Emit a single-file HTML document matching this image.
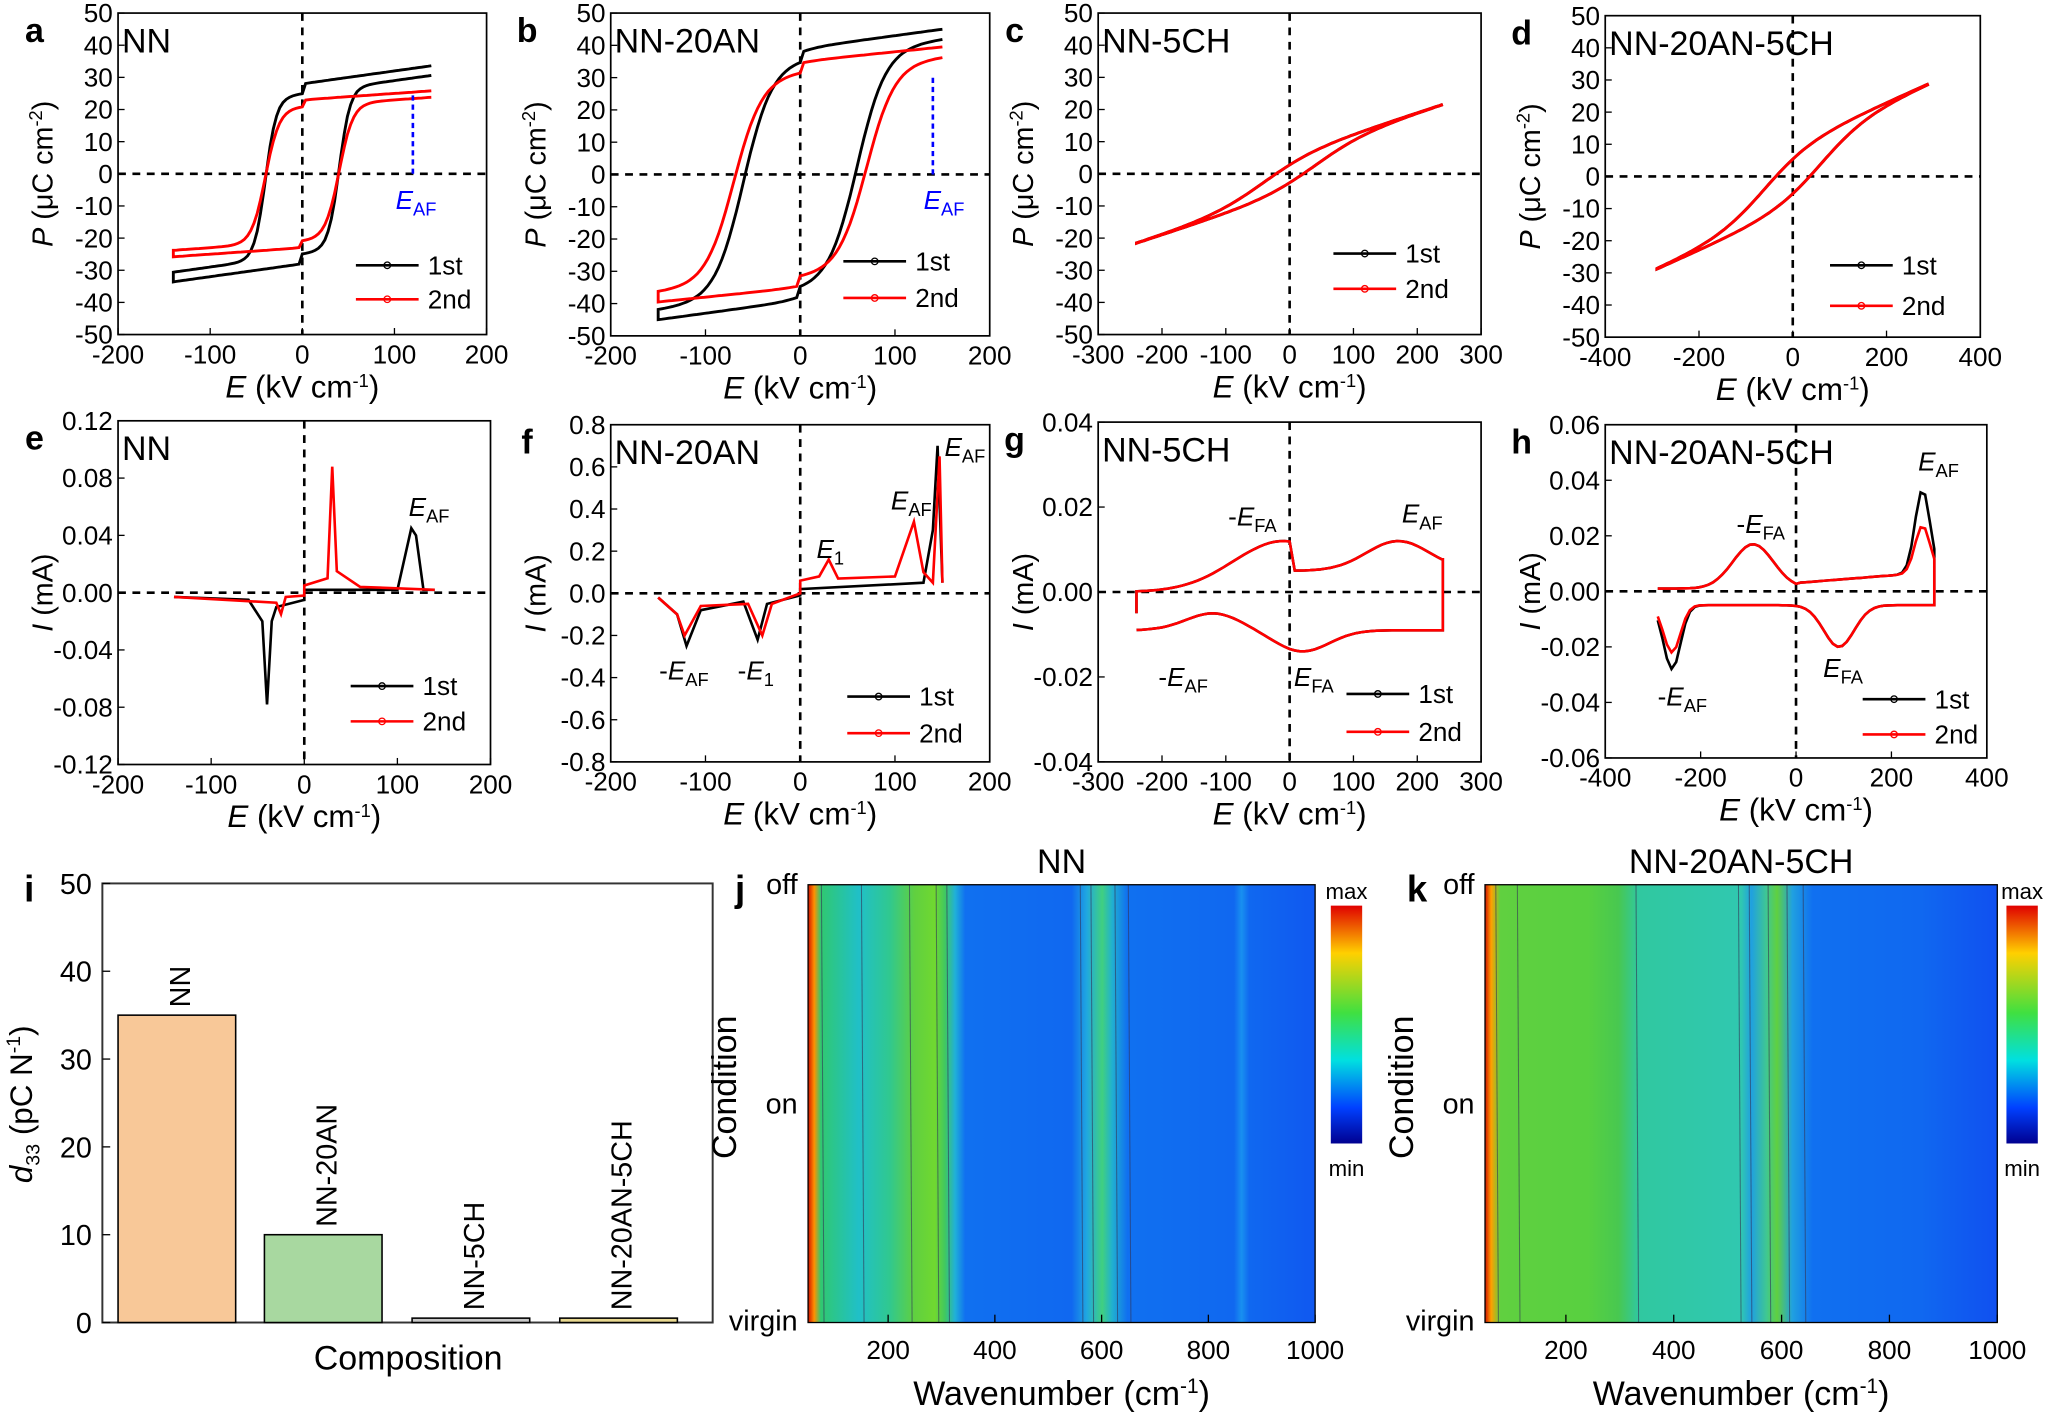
<!DOCTYPE html>
<html><head><meta charset="utf-8"><style>
html,body{margin:0;padding:0;background:#fff}
svg{display:block}
text{font-family:"Liberation Sans",sans-serif}
</style></head><body>
<svg id="s" width="2050" height="1414" viewBox="0 0 1568 1082" xmlns="http://www.w3.org/2000/svg">
<defs>
<linearGradient id="gj" x1="0" x2="1" y1="0" y2="0">
<stop offset="0" stop-color="#d01000"/><stop offset="0.012" stop-color="#ff9000"/><stop offset="0.025" stop-color="#30c870"/>
<stop offset="0.1" stop-color="#20c0c8"/><stop offset="0.16" stop-color="#30c890"/><stop offset="0.21" stop-color="#60d040"/>
<stop offset="0.25" stop-color="#70d830"/><stop offset="0.27" stop-color="#40c860"/><stop offset="0.29" stop-color="#20b0d8"/>
<stop offset="0.31" stop-color="#1070f0"/><stop offset="0.52" stop-color="#1068f0"/><stop offset="0.55" stop-color="#20a8e0"/>
<stop offset="0.58" stop-color="#40d080"/><stop offset="0.6" stop-color="#20b0d0"/><stop offset="0.63" stop-color="#1070f0"/>
<stop offset="0.84" stop-color="#1068f0"/><stop offset="0.855" stop-color="#1890f0"/><stop offset="0.87" stop-color="#1068f0"/><stop offset="1" stop-color="#1058f0"/>
</linearGradient>
<linearGradient id="gk" x1="0" x2="1" y1="0" y2="0">
<stop offset="0" stop-color="#d01000"/><stop offset="0.012" stop-color="#ffa000"/><stop offset="0.03" stop-color="#60d040"/>
<stop offset="0.2" stop-color="#58d040"/><stop offset="0.26" stop-color="#48c850"/><stop offset="0.3" stop-color="#30c8a0"/>
<stop offset="0.5" stop-color="#30c8b0"/><stop offset="0.52" stop-color="#20a0e0"/><stop offset="0.55" stop-color="#40c890"/>
<stop offset="0.57" stop-color="#60d040"/><stop offset="0.6" stop-color="#20a0e0"/><stop offset="0.64" stop-color="#1070f0"/>
<stop offset="0.85" stop-color="#1068f0"/><stop offset="1" stop-color="#1050f0"/>
</linearGradient>
<linearGradient id="cb" x1="0" x2="0" y1="0" y2="1">
<stop offset="0" stop-color="#e00000"/><stop offset="0.2" stop-color="#ffd000"/><stop offset="0.45" stop-color="#40e040"/>
<stop offset="0.65" stop-color="#00e0e0"/><stop offset="0.85" stop-color="#0040ff"/><stop offset="1" stop-color="#000090"/>
</linearGradient>
</defs>
<g id="g"></g>
</svg>
<script>
const G=document.getElementById('g');let h='';
function ga(x){return Math.exp(-x*x);}
function T(x,y,t,o={}){h+=`<text x="${x}" y="${y}" font-size="${o.s||20}" text-anchor="${o.a||'middle'}" ${o.b?'font-weight="bold"':''} ${o.r?`transform="rotate(${o.r} ${x} ${y})"`:''} fill="${o.c||'#000'}">${t}</text>`}
function panel(x0,y0,x1,y1,xr,yr,xt,yt,fmtY,letter,name,ylab,xlab){
 const X=v=>x0+(v-xr[0])/(xr[1]-xr[0])*(x1-x0),Y=v=>y1-(v-yr[0])/(yr[1]-yr[0])*(y1-y0);
 h+=`<rect x="${x0}" y="${y0}" width="${x1-x0}" height="${y1-y0}" fill="none" stroke="#000" stroke-width="1.3"/>`;
 xt.forEach(v=>{h+=`<line x1="${X(v)}" x2="${X(v)}" y1="${y1}" y2="${y1-5}" stroke="#000"/>`;T(X(v),y1+22,v)});
 yt.forEach(v=>{h+=`<line x1="${x0}" x2="${x0+5}" y1="${Y(v)}" y2="${Y(v)}" stroke="#000"/>`;T(x0-4,Y(v)+7,fmtY(v),{a:'end'})});
 h+=`<line x1="${x0}" x2="${x1}" y1="${Y(0)}" y2="${Y(0)}" stroke="#000" stroke-width="2" stroke-dasharray="6,5"/>`;
 h+=`<line x1="${X(0)}" x2="${X(0)}" y1="${y0}" y2="${y1}" stroke="#000" stroke-width="2" stroke-dasharray="6,5"/>`;
 T(x0-64,y0+22,letter,{s:26,b:1});T(x0+3,y0+30,name,{s:26,a:'start'});
 T(x0-50,(y0+y1)/2,ylab,{s:22,r:-90});T((x0+x1)/2,y1+48,xlab,{s:24});
 return [X,Y];
}
function path(pts,c,w){h+=`<path d="M${pts.map(p=>p[0].toFixed(1)+','+p[1].toFixed(1)).join('L')}" fill="none" stroke="${c}" stroke-width="${w||2.2}"/>`}
function loop(X,Y,Em,Ps,Ec,wd,k,c,jump){let p=[];
 for(let i=0;i<=80;i++){let E=Em-2*Em*i/80;p.push([X(E),Y(Ps*Math.tanh((E+Ec)/wd)+k*E+(E>0?jump:0))])}
 for(let i=0;i<=80;i++){let E=-Em+2*Em*i/80;p.push([X(E),Y(Ps*Math.tanh((E-Ec)/wd)+k*E-(E<0?jump:0))])}
 path(p,c)}
function leg(x,y,c,t){h+=`<line x1="${x}" x2="${x+48}" y1="${y}" y2="${y}" stroke="${c}" stroke-width="2"/><circle cx="${x+24}" cy="${y}" r="2.5" fill="none" stroke="${c}"/>`;T(x+55,y+7,t,{a:'start'})}
const PY='<tspan font-style="italic">P</tspan> (μC cm<tspan dy="-8" font-size="14">-2</tspan><tspan dy="8">)</tspan>';
const IY='<tspan font-style="italic">I</tspan> (mA)';
const EX='<tspan font-style="italic">E</tspan> (kV cm<tspan dy="-8" font-size="14">-1</tspan><tspan dy="8">)</tspan>';
const pt=[-50,-40,-30,-20,-10,0,10,20,30,40,50];
let r;
r=panel(90,10,372,256,[-200,200],[-50,50],[-200,-100,0,100,200],pt,v=>v,'a','NN',PY,EX);
loop(...r,140,25,40,12,0.04,'#000',3);loop(...r,140,21,40,15,0.02,'#f00',2);
h+=`<line x1="${r[0](120)}" x2="${r[0](120)}" y1="${r[1](0)}" y2="${r[1](25)}" stroke="#00f" stroke-width="2" stroke-dasharray="4,3"/>`;T(318,160,'<tspan font-style="italic">E</tspan><tspan font-size="14" dy="5">AF</tspan>',{c:'#00f'});
leg(272,203,'#000','1st');leg(272,229,'#f00','2nd');
r=panel(467,10,757,257,[-200,200],[-50,50],[-200,-100,0,100,200],pt,v=>v,'b','NN-20AN',PY,EX);
loop(...r,150,36,60,30,0.04,'#000',3);loop(...r,150,32,70,30,0.03,'#f00',3);
h+=`<line x1="${r[0](140)}" x2="${r[0](140)}" y1="${r[1](0)}" y2="${r[1](30)}" stroke="#00f" stroke-width="2" stroke-dasharray="4,3"/>`;T(722,160,'<tspan font-style="italic">E</tspan><tspan font-size="14" dy="5">AF</tspan>',{c:'#00f'});
leg(645,200,'#000','1st');leg(645,228,'#f00','2nd');
r=panel(840,10,1133,256,[-300,300],[-50,50],[-300,-200,-100,0,100,200,300],pt,v=>v,'c','NN-5CH',PY,EX);
loop(...r,240,6,40,80,0.065,'#000',0);loop(...r,240,6,40,80,0.065,'#f00',0);
leg(1020,194,'#000','1st');leg(1020,221,'#f00','2nd');
r=panel(1228,12,1515,258,[-400,400],[-50,50],[-400,-200,0,200,400],pt,v=>v,'d','NN-20AN-5CH',PY,EX);
loop(...r,290,10,60,100,0.065,'#000',0);loop(...r,290,10,60,100,0.065,'#f00',0);
leg(1400,203,'#000','1st');leg(1400,234,'#f00','2nd');
const AF='<tspan font-style="italic">E</tspan><tspan font-size="14" dy="5">AF</tspan>';
function cur(X,Y,pts,c){path(pts.map(p=>[X(p[0]),Y(p[1])]),c,2)}
r=panel(90,322,375,585,[-200,200],[-0.12,0.12],[-200,-100,0,100,200],[-0.12,-0.08,-0.04,0,0.04,0.08,0.12],v=>v.toFixed(2),'e','NN',IY,EX);
cur(...r,[[-140,-0.003],[-60,-0.005],[-45,-0.02],[-40,-0.078],[-35,-0.02],[-30,-0.01],[0,-0.005],[0,0.002],[100,0.002],[115,0.045],[120,0.04],[128,0.002],[140,0.002]],'#000');
cur(...r,[[-140,-0.003],[-30,-0.007],[-25,-0.015],[-20,-0.003],[0,-0.002],[0,0.005],[25,0.01],[30,0.088],[35,0.015],[60,0.004],[140,0.002]],'#f00');
T(328,395,AF);leg(268,525,'#000','1st');leg(268,552,'#f00','2nd');
r=panel(467,325,757,583,[-200,200],[-0.8,0.8],[-200,-100,0,100,200],[-0.8,-0.6,-0.4,-0.2,0,0.2,0.4,0.6,0.8],v=>v.toFixed(1),'f','NN-20AN',IY,EX);
cur(...r,[[-150,-0.02],[-130,-0.1],[-120,-0.25],[-105,-0.08],[-60,-0.04],[-45,-0.22],[-35,-0.05],[0,-0.01],[0,0.02],[130,0.05],[140,0.3],[145,0.7],[150,0.05]],'#000');
cur(...r,[[-150,-0.02],[-130,-0.1],[-122,-0.2],[-105,-0.06],[-55,-0.05],[-40,-0.2],[-30,-0.05],[0,0.0],[0,0.06],[20,0.08],[30,0.16],[40,0.07],[100,0.08],[120,0.34],[130,0.1],[140,0.05],[147,0.65],[150,0.05]],'#f00');
T(523,520,'-'+AF);T(578,520,'-<tspan font-style="italic">E</tspan><tspan font-size="14" dy="5">1</tspan>');T(635,427,'<tspan font-style="italic">E</tspan><tspan font-size="14" dy="5">1</tspan>');T(697,390,AF);T(738,349,AF);
leg(648,533,'#000','1st');leg(648,561,'#f00','2nd');
r=panel(840,323,1133,583,[-300,300],[-0.04,0.04],[-300,-200,-100,0,100,200,300],[-0.04,-0.02,0,0.02,0.04],v=>v.toFixed(2),'g','NN-5CH',IY,EX);
['#000','#f00'].forEach(c=>{let p=[];
 for(let i=0;i<=60;i++){let E=-240+480*i/60;p.push([E,-0.009+0.004*ga((E+120)/60)-0.005*ga((E-20)/60)])}
 p.push([240,0.008]);
 for(let i=60;i>=0;i--){let E=-240+480*i/60;p.push([E,E>0?0.005+0.007*ga((E-170)/70):0.012*ga((E+10)/110)])}
 p.push([-240,-0.005]);cur(...r,p,c)});
T(958,402,'-<tspan font-style="italic">E</tspan><tspan font-size="14" dy="5">FA</tspan>');T(1088,400,AF);T(905,525,'-'+AF);T(1005,525,'<tspan font-style="italic">E</tspan><tspan font-size="14" dy="5">FA</tspan>');
leg(1030,531,'#000','1st');leg(1030,560,'#f00','2nd');
r=panel(1228,325,1520,580,[-400,400],[-0.06,0.06],[-400,-200,0,200,400],[-0.06,-0.04,-0.02,0,0.02,0.04,0.06],v=>v.toFixed(2),'h','NN-20AN-5CH',IY,EX);
[['#000',0.04,-0.028],['#f00',0.027,-0.022]].forEach(([c,pk,nk])=>{let p=[];
 for(let i=0;i<=60;i++){let E=-290+580*i/60;p.push([E,-0.005+(nk+0.005)*ga((E+260)/25)-0.015*ga((E-90)/45)])}
 for(let i=60;i>=0;i--){let E=-290+580*i/60;p.push([E,E>0?0.003+0.004*E/290+(pk-0.01)*ga((E-265)/22):0.001+0.016*ga((E+90)/60)])}
 cur(...r,p,c)});
T(1347,408,'-<tspan font-style="italic">E</tspan><tspan font-size="14" dy="5">FA</tspan>');T(1483,360,AF);T(1287,540,'-'+AF);T(1410,518,'<tspan font-style="italic">E</tspan><tspan font-size="14" dy="5">FA</tspan>');
leg(1425,535,'#000','1st');leg(1425,562,'#f00','2nd');
h+=`<rect x="78" y="676" width="467" height="336" fill="none" stroke="#333" stroke-width="1.5"/>`;
[0,10,20,30,40,50].forEach(v=>{let y=1012-v*6.72;T(70,y+8,v,{a:'end',s:22});h+=`<line x1="78" x2="84" y1="${y}" y2="${y}" stroke="#000"/>`});
T(22,690,'i',{s:28,b:1});T(24,845,'<tspan font-style="italic">d</tspan><tspan font-size="15" dy="6">33</tspan><tspan dy="-6"> (pC N</tspan><tspan dy="-9" font-size="15">-1</tspan><tspan dy="9">)</tspan>',{s:24,r:-90});
T(312,1048,'Composition',{s:26});
[[90,35,'#f8c898','NN'],[202,10,'#a8d8a0','NN-20AN'],[315,0.5,'#c8c8c8','NN-5CH'],[428,0.5,'#e8d890','NN-20AN-5CH']].forEach(([x,v,c,t])=>{let y=1012-v*6.72;h+=`<rect x="${x}" y="${y}" width="90" height="${1012-y}" fill="${c}" stroke="#000" stroke-width="1.2"/>`;T(x+55,y-6,t,{s:22,a:'start',r:-90})});
function heat(x0,x1,g,l,title,cbx,lines){
 const W=v=>x0+(v-50)/950*(x1-x0);
 h+=`<rect x="${x0}" y="677" width="${x1-x0}" height="335" fill="url(#${g})"/>`;
 lines.forEach(v=>{h+=`<line x1="${W(v)}" x2="${W(v)+2}" y1="677" y2="1012" stroke="#335" stroke-width="0.8" opacity="0.6"/>`});
 h+=`<rect x="${x0}" y="677" width="${x1-x0}" height="335" fill="none" stroke="#000"/>`;
 [200,400,600,800,1000].forEach(v=>{let x=W(v);T(x,1040,v,{s:20});h+=`<line x1="${x}" x2="${x}" y1="1012" y2="1006" stroke="#000"/>`});
 T(x0-8,684,'off',{a:'end',s:22});T(x0-8,852,'on',{a:'end',s:22});T(x0-8,1018,'virgin',{a:'end',s:22});
 T(x0-52,690,l,{s:28,b:1});T(x0-55,832,'Condition',{s:26,r:-90});T((x0+x1)/2,1075,'Wavenumber (cm<tspan dy="-9" font-size="16">-1</tspan><tspan dy="9">)</tspan>',{s:26});
 T((x0+x1)/2,668,title,{s:26});
 h+=`<rect x="${cbx}" y="693" width="24" height="182" fill="url(#cb)"/>`;T(cbx+12,688,'max',{s:17});T(cbx+12,900,'min',{s:17});
}
heat(618,1006,'gj','j','NN',1018,[75,150,240,290,310,560,580,625,650]);
heat(1136,1528,'gk','k','NN-20AN-5CH',1535,[70,110,330,520,540,575,610,640]);
G.innerHTML=h;
</script>
</body></html>
